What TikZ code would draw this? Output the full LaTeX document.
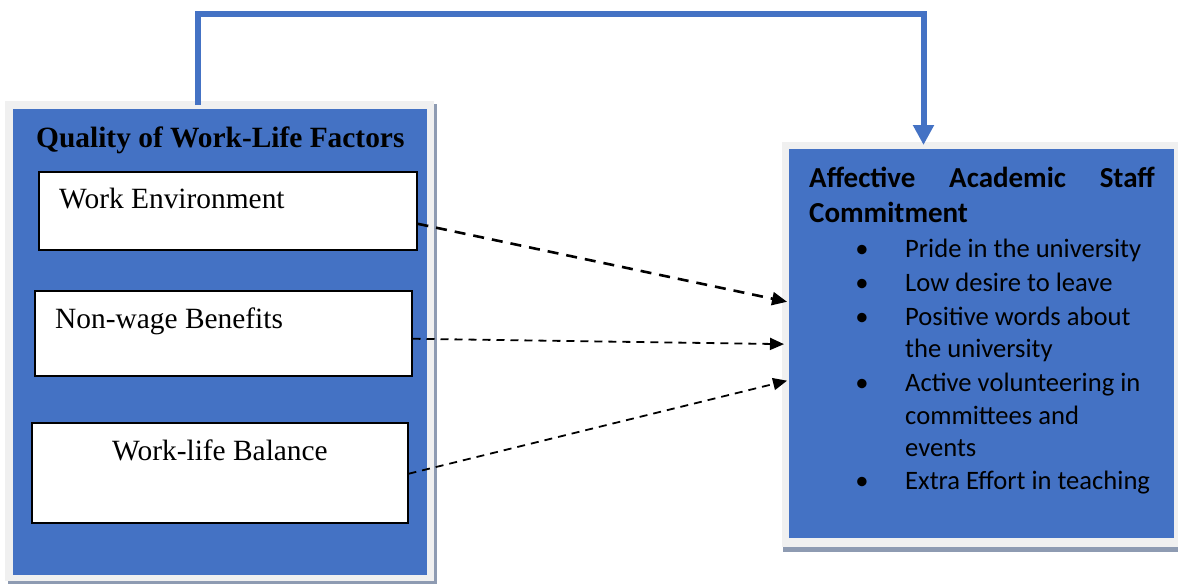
\documentclass[tikz,border=0pt]{standalone}
\usepackage{fontspec}
\setmainfont{Liberation Serif}
\newfontfamily\calibrifont{Carlito}
\usetikzlibrary{arrows.meta}
\definecolor{wordblue}{HTML}{4472C4}
\definecolor{framegray}{HTML}{F0F0F0}
\definecolor{shadowgray}{HTML}{8E9BB2}
\tikzset{
  outerbox/.style={fill=framegray, draw=none, anchor=north west, inner sep=0pt},
  shadowbox/.style={fill=shadowgray, draw=none, anchor=north west, inner sep=0pt},
  bluebox/.style={fill=wordblue, draw=none, anchor=north west, inner sep=0pt},
  whitebox/.style={fill=white, draw=black, line width=1.5pt, anchor=north west, inner sep=0pt},
  serifbig/.style={font=\fontsize{29.4}{35}\selectfont, anchor=base west, inner sep=0pt},
  seriftitle/.style={font=\fontsize{29.4}{35}\selectfont\bfseries, anchor=base west, inner sep=0pt},
  calhead/.style={font=\calibrifont\fontsize{29}{35}\selectfont\bfseries, inner sep=0pt},
  calitem/.style={font=\calibrifont\fontsize{26.6}{33}\selectfont, anchor=base west, inner sep=0pt},
  calbullet/.style={font=\calibrifont\fontsize{26.6}{33}\selectfont, anchor=base, inner sep=0pt},
  dasharrow/.style={draw=black, dash pattern=on 8pt off 6pt, line width=1.8pt, -{Triangle[length=14pt,width=12pt]}},
  dasharrowthick/.style={draw=black, dash pattern=on 11pt off 8pt, line width=2.6pt, -{Triangle[length=15pt,width=13pt]}},
  topline/.style={draw=wordblue, line width=6pt, line join=miter, -{Triangle[length=20pt,width=20pt]}}
}
\begin{document}
\begin{tikzpicture}[x=1pt,y=-1pt]
\useasboundingbox (0,0) rectangle (1178,584);
% left group
\node[shadowbox, minimum width=429pt, minimum height=480pt] (qwlshadow) at (8,104) {};
\node[outerbox, minimum width=429pt, minimum height=480pt] (qwl) at (5,101) {};
\node[bluebox, minimum width=414pt, minimum height=466pt] (qwlin) at (13,109) {};
\node[seriftitle] (qwltitle) at (36,147) {Quality of Work-Life Factors};
\node[whitebox, minimum width=378pt, minimum height=78pt] (box1) at (38,171) {};
\node[whitebox, minimum width=377pt, minimum height=85pt] (box2) at (34,290) {};
\node[whitebox, minimum width=376pt, minimum height=100pt] (box3) at (31,422) {};
\node[serifbig] (t1) at (59,208) {Work Environment};
\node[serifbig] (t2) at (55,328) {Non-wage Benefits};
\node[serifbig] (t3) at (112,460) {Work-life Balance};
% right group
\node[shadowbox, minimum width=395pt, minimum height=405pt] (aacsshadow) at (783,147) {};
\node[outerbox, minimum width=396pt, minimum height=405pt] (aacs) at (782,142) {};
\node[bluebox, minimum width=385pt, minimum height=389pt] (aacsin) at (789,149) {};
\node[calhead, anchor=base west] (h1) at (809,187) {Affective};
\node[calhead, anchor=base west] (h2) at (949,187) {Academic};
\node[calhead, anchor=base east] (h3) at (1155,187) {Staff};
\node[calhead, anchor=base west] (h4) at (809,222) {Commitment};
\node[calbullet] (b1) at (862,257) {\textbullet};
\node[calbullet] (b2) at (862,291) {\textbullet};
\node[calbullet] (b3) at (862,325) {\textbullet};
\node[calbullet] (b4) at (862,391) {\textbullet};
\node[calbullet] (b5) at (862,489) {\textbullet};
\node[calitem] (l1) at (905,257) {Pride in the university};
\node[calitem] (l2) at (905,291) {Low desire to leave};
\node[calitem] (l3) at (905,325) {Positive words about};
\node[calitem] (l4) at (905,357) {the university};
\node[calitem] (l5) at (905,391) {Active volunteering in};
\node[calitem] (l6) at (905,424) {committees and};
\node[calitem] (l7) at (905,456) {events};
\node[calitem] (l8) at (905,489) {Extra Effort in teaching};
% connectors
\draw[topline] ([xshift=-22pt,yshift=-4pt]qwl.north) -- ++(0,-91.5) -| ([xshift=-56.7pt,yshift=-3pt]aacs.north);
\draw[dasharrowthick, shorten >=2pt] ([yshift=-13pt]box1.east) -- ([yshift=41.5pt]aacsin.west);
\draw[dasharrow, shorten >=5pt] ([yshift=-5.5pt]box2.east) -- ([yshift=-0.5pt]aacsin.west);
\draw[dasharrow, shorten >=2pt] ([yshift=-1pt]box3.east) -- ([yshift=-36.5pt]aacsin.west);
\end{tikzpicture}
\end{document}
